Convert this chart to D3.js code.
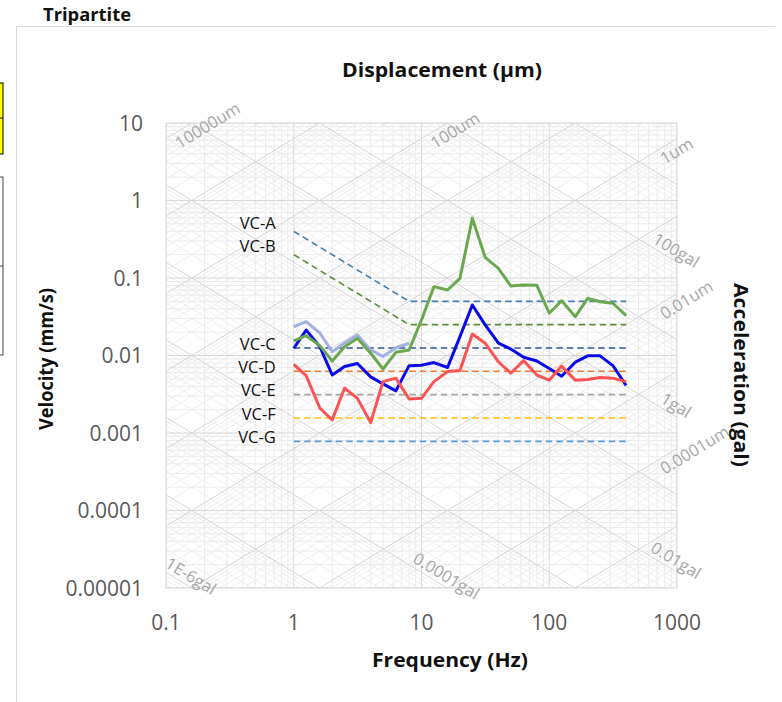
<!DOCTYPE html>
<meta charset="utf-8">
<html>
<head>
<script src="https://cdn.jsdelivr.net/npm/d3@7"></script>
<style>
body { margin: 0; background: #fff; }
text { font-family: "Open Sans", "Noto Sans", sans-serif; }
</style>
</head>
<body>
<script>

// 1/3 octave band centre frequencies (Hz)
var freqs = [1, 1.25, 1.6, 2, 2.5, 3.15, 4, 5, 6.3, 8, 10, 12.5, 16, 20, 25, 31.5,
             40, 50, 63, 80, 100, 125, 160, 200, 250, 315, 400];

// measured velocities (mm/s)
var velGreen = [0.0154, 0.0180, 0.0134, 0.0085, 0.0130, 0.0167, 0.0107, 0.0067, 0.0110, 0.0118,
                0.0287, 0.0773, 0.0700, 0.0990, 0.589, 0.185, 0.133, 0.0790, 0.0810, 0.0805,
                0.0351, 0.0509, 0.0317, 0.0547, 0.0494, 0.0472, 0.0327];
var velBlue  = [0.0124, 0.0213, 0.0130, 0.0056, 0.0072, 0.0079, 0.0053, 0.0043, 0.0035, 0.0074,
                0.0075, 0.0081, 0.0070, 0.0175, 0.0449, 0.0248, 0.0144, 0.0121, 0.0095, 0.0085,
                0.0068, 0.0054, 0.0082, 0.0099, 0.0099, 0.0074, 0.0041];
var velRed   = [0.0077, 0.0055, 0.0021, 0.00147, 0.0038, 0.0028, 0.00136, 0.0046, 0.0051, 0.00275,
                0.0028, 0.0046, 0.0062, 0.0064, 0.0189, 0.0144, 0.0083, 0.0059, 0.0086, 0.0056,
                0.0048, 0.0073, 0.0048, 0.0049, 0.0052, 0.0051, 0.0046];
var velLav   = [0.0235, 0.0273, 0.0195, 0.0112, 0.0145, 0.0184, 0.0118, 0.0097, 0.0126, 0.0144];

// vibration criteria curves
var vcNames  = ["VC-A", "VC-B", "VC-C", "VC-D", "VC-E", "VC-F", "VC-G"];
var vcFreqs  = [[1, 8, 400], [1, 8, 400], [1, 400], [1, 400], [1, 400], [1, 400], [1, 400]];
var vcVels   = [[0.4, 0.05, 0.05], [0.2, 0.025, 0.025], [0.0125, 0.0125], [0.00625, 0.00625],
                [0.003125, 0.003125], [0.0015625, 0.0015625], [0.00078, 0.00078]];
var vcColors = ["#4a7cb4", "#5b8c3a", "#2f5597", "#ed7d31", "#a5a5a5", "#ffc000", "#5b9bd5"];

// tick labels
var xTicks = [0.1, 1, 10, 100, 1000];
var xTickLabels = ["0.1", "1", "10", "100", "1000"];
var yTicks = [10, 1, 0.1, 0.01, 0.001, 0.0001, 0.00001];
var yTickLabels = ["10", "1", "0.1", "0.01", "0.001", "0.0001", "0.00001"];

// labelled diagonal lines
var dispLabels = [10000, 100, 1, 0.01, 0.0001];           // um
var dispLabelText = ["10000um", "100um", "1um", "0.01um", "0.0001um"];
var accLabels = [100, 1, 0.01, 0.0001, 0.000001];          // gal
var accLabelText = ["100gal", "1gal", "0.01gal", "0.0001gal", "1E-6gal"];

var W = 782, H = 702;
var L = 166, R = 677, T = 123, B = 588;

var svg = d3.select("body").append("svg")
  .attr("width", W)
  .attr("height", H);

// spreadsheet bits left of the chart
svg.append("rect").attr("x", -1).attr("y", 83).attr("width", 4).attr("height", 71)
  .style("fill", "#ffff00").style("stroke", "#000").style("stroke-width", 1);
svg.append("line").attr("x1", 0).attr("x2", 3).attr("y1", 118).attr("y2", 118)
  .style("stroke", "#000");
svg.append("rect").attr("x", -1).attr("y", 177).attr("width", 4).attr("height", 178)
  .style("fill", "#fff").style("stroke", "#444").style("stroke-width", 1);
svg.append("line").attr("x1", 0).attr("x2", 3).attr("y1", 266).attr("y2", 266)
  .style("stroke", "#444");

// chart frame
svg.append("path").attr("d", "M16.5,702 V26.5 H775")
  .style("fill", "none").style("stroke", "#d9d9d9");

svg.append("text").attr("x", 43).attr("y", 21)
  .attr("textLength", 88).attr("lengthAdjust", "spacingAndGlyphs")
  .style("font-size", "17px").style("font-weight", "bold").style("fill", "#111")
  .text("Tripartite");

var x = d3.scaleLog().domain([0.1, 1000]).range([L, R]);
var y = d3.scaleLog().domain([0.00001, 10]).range([B, T]);

svg.append("clipPath").attr("id", "plot")
  .append("rect").attr("x", L).attr("y", T).attr("width", R - L).attr("height", B - T);

var grid = svg.append("g").attr("clip-path", "url(#plot)");

// minor / major log values
function logValues(lo, hi) {
  var out = [];
  for (var e = lo; e <= hi; e++) {
    for (var m = 1; m <= 9; m++) out.push({ v: m * Math.pow(10, e), major: m == 1 });
  }
  return out;
}

// diagonal grid: constant displacement (rising) and constant acceleration (falling)
var dispGrid = logValues(-7, 5);   // um
var accGrid = logValues(-8, 4);    // gal
function dispV(d, f) { return 2 * Math.PI * f * d / 1000; }
function accV(a, f) { return 10 * a / (2 * Math.PI * f); }

grid.selectAll(".dminor").data(dispGrid.filter(function(d) { return !d.major; })).enter()
  .append("line")
  .attr("x1", x(0.1)).attr("x2", x(1000))
  .attr("y1", function(d) { return y(dispV(d.v, 0.1)); })
  .attr("y2", function(d) { return y(dispV(d.v, 1000)); })
  .style("stroke", "#efefef").style("stroke-width", 1);
grid.selectAll(".aminor").data(accGrid.filter(function(d) { return !d.major; })).enter()
  .append("line")
  .attr("x1", x(0.1)).attr("x2", x(1000))
  .attr("y1", function(d) { return y(accV(d.v, 0.1)); })
  .attr("y2", function(d) { return y(accV(d.v, 1000)); })
  .style("stroke", "#efefef").style("stroke-width", 1);

// rectangular grid
var xGrid = logValues(-1, 2).concat([{ v: 1000, major: true }]);
var yGrid = logValues(-5, 0).concat([{ v: 10, major: true }]);
grid.selectAll(".vx").data(xGrid).enter().append("line")
  .attr("x1", function(d) { return x(d.v); }).attr("x2", function(d) { return x(d.v); })
  .attr("y1", T).attr("y2", B)
  .style("stroke", function(d) { return d.major ? "#d9d9d9" : "#ececec"; });
grid.selectAll(".hy").data(yGrid).enter().append("line")
  .attr("y1", function(d) { return y(d.v); }).attr("y2", function(d) { return y(d.v); })
  .attr("x1", L).attr("x2", R)
  .style("stroke", function(d) { return d.major ? "#d9d9d9" : "#ececec"; });

grid.selectAll(".dmajor").data(dispGrid.filter(function(d) { return d.major; })).enter()
  .append("line")
  .attr("x1", x(0.1)).attr("x2", x(1000))
  .attr("y1", function(d) { return y(dispV(d.v, 0.1)); })
  .attr("y2", function(d) { return y(dispV(d.v, 1000)); })
  .style("stroke", "#d6d6d6").style("stroke-width", 1);
grid.selectAll(".amajor").data(accGrid.filter(function(d) { return d.major; })).enter()
  .append("line")
  .attr("x1", x(0.1)).attr("x2", x(1000))
  .attr("y1", function(d) { return y(accV(d.v, 0.1)); })
  .attr("y2", function(d) { return y(accV(d.v, 1000)); })
  .style("stroke", "#d6d6d6").style("stroke-width", 1);

svg.append("rect").attr("x", L).attr("y", T).attr("width", R - L).attr("height", B - T)
  .style("fill", "none").style("stroke", "#d9d9d9");

// diagonal labels
var ang = Math.atan((B - T) / 6 / ((R - L) / 4)) * 180 / Math.PI;
var rad = ang * Math.PI / 180;
var ca = Math.cos(rad), sa = Math.sin(rad);

dispLabels.forEach(function(d, i) {
  var fTop = 10 / (2 * Math.PI * d / 1000);
  var ex, ey;
  if (fTop < 1000) { ex = x(fTop); ey = T; } else { ex = R; ey = y(dispV(d, 1000)); }
  // along-line offset a, below-line offset b
  var a = -24, b = 16;
  var px = ex + a * ca + b * sa, py = ey - a * sa + b * ca;
  svg.append("text")
    .attr("transform", "translate(" + px + "," + py + ") rotate(" + (-ang) + ")")
    .style("font-size", "16.5px").style("fill", "#a6a6a6")
    .text(dispLabelText[i]);
});

accLabels.forEach(function(d, i) {
  var vR = accV(d, 1000);
  var ex, ey;
  if (vR >= 0.00001) { ex = R; ey = y(vR); }
  else { ex = x(10 * d / (2 * Math.PI * 0.00001)); ey = B; }
  var a = -7, b = -4;
  var px = ex + a * ca - b * sa, py = ey + a * sa + b * ca;
  svg.append("text")
    .attr("transform", "translate(" + px + "," + py + ") rotate(" + ang + ")")
    .attr("text-anchor", "middle")
    .style("font-size", "16.5px").style("fill", "#a6a6a6")
    .text(accLabelText[i]);
});

// VC criteria dashed lines
var line = d3.line()
  .x(function(d) { return x(d[0]); })
  .y(function(d) { return y(d[1]); });

vcNames.forEach(function(name, i) {
  var pts = vcFreqs[i].map(function(f, j) { return [f, vcVels[i][j]]; });
  svg.append("path").attr("d", line(pts))
    .style("fill", "none").style("stroke", vcColors[i])
    .style("stroke-width", 1.6).style("stroke-dasharray", "6.5,4");
  svg.append("text")
    .attr("x", x(1) - 18)
    .attr("y", y(pts[0][1]) - (i < 2 ? 8 : 4))
    .attr("text-anchor", "end")
    .attr("dy", "0.35em")
    .style("font-size", "16.5px").style("fill", "#111")
    .text(name);
});

// measured series
function series(vals, color) {
  var pts = vals.map(function(v, j) { return [freqs[j], v]; });
  svg.append("path").attr("d", line(pts))
    .style("fill", "none").style("stroke", color)
    .style("stroke-width", 3).style("stroke-linejoin", "round");
}
series(velLav, "#a3b1e0");
series(velBlue, "#0a0aeb");
series(velRed, "#ff5252");
series(velGreen, "#6aa84f");

// tick labels
svg.selectAll(".xt").data(xTicks).enter().append("text")
  .attr("x", function(d) { return x(d); })
  .attr("y", 630)
  .attr("text-anchor", "middle")
  .style("font-size", "21px").style("fill", "#595959")
  .text(function(d, i) { return xTickLabels[i]; });
svg.selectAll(".yt").data(yTicks).enter().append("text")
  .attr("x", 143)
  .attr("y", function(d) { return y(d); })
  .attr("dy", "0.36em")
  .attr("text-anchor", "end")
  .style("font-size", "21px").style("fill", "#595959")
  .text(function(d, i) { return yTickLabels[i]; });

// axis titles
function title(tx, ty, rot, len, txt) {
  svg.append("text")
    .attr("transform", "translate(" + tx + "," + ty + ") rotate(" + rot + ")")
    .attr("text-anchor", "middle")
    .attr("textLength", len).attr("lengthAdjust", "spacingAndGlyphs")
    .style("font-size", "20px").style("font-weight", "bold").style("fill", "#111")
    .text(txt);
}
title(442, 77, 0, 200, "Displacement (µm)");
title(450, 667, 0, 156, "Frequency (Hz)");
title(53, 359, -90, 142, "Velocity (mm/s)");
title(734, 375, 90, 184, "Acceleration (gal)");

</script>
</body>
</html>
